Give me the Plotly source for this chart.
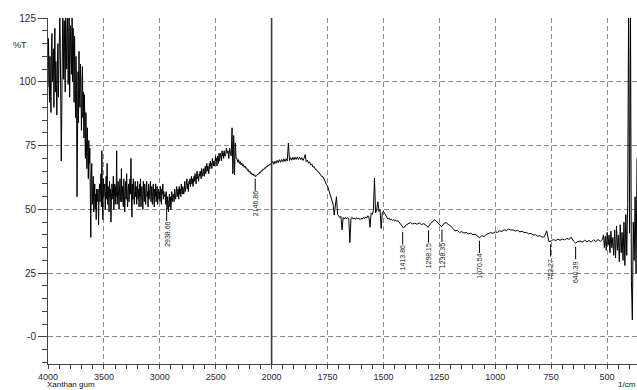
import numpy as np
import plotly.graph_objects as go

# ---------------- data ----------------
# transmittance (%T), segment by segment
t_4000_3560 = [98, 117, 104, 92, 110, 96, 88, 112, 119, 100, 107, 113, 90, 102, 121, 96,
               108, 99, 87, 106, 115, 94, 111,
               104, 126, 113, 98, 69, 88, 112, 128, 118, 101, 124, 109, 96, 130, 117,
               105, 119, 127, 99, 112, 128, 94, 108, 122, 115, 103, 127, 100, 121, 110,
               92, 118, 103, 86, 110, 97, 55, 88, 104, 84, 112, 95, 90, 107, 100, 81,
               99, 106, 86, 96,
               78, 95, 84, 70, 88, 76, 66, 82, 72, 62, 77, 68, 74, 58, 39, 63,
               68, 52, 61, 63, 49, 57, 60, 50, 56, 46, 58, 53]
t_3552_2960 = [58, 44, 55, 60, 53, 57, 64, 51, 73, 56,
               46, 62, 55, 59, 60, 50, 57, 63, 54, 68,
               52, 59, 56, 49, 61, 55, 58, 45, 53, 60,
               58, 54, 63, 50, 57, 60, 52, 59, 55, 73,
               52, 57, 61, 54, 50, 58, 62, 55, 53, 66,
               53, 59, 55, 51, 62, 57, 49, 58, 61, 54,
               64, 55, 51, 58, 60, 53, 57, 62, 56, 70,
               56, 47, 60, 54, 62, 58, 52, 57, 61, 55,
               59, 52, 56, 61, 54, 58, 51, 60, 55, 62,
               51, 57, 59, 54, 50, 61, 56, 53, 60, 55,
               52, 58, 61, 55, 57, 51, 60, 54, 58, 56,
               61, 53, 57, 59, 52, 56, 60, 54, 51, 58,
               55, 60, 53, 57, 59, 52, 56, 58, 54, 57,
               53, 59, 55, 52, 58, 56, 60, 54, 57, 55]
t_2952_2880 = [56, 52, 57, 54, 50, 55, 53, 49, 54, 56, 51, 55, 50, 54, 57, 53, 55, 56]
t_2872_2420 = [53, 58, 56, 54, 57, 59, 55, 56, 58, 54,
               59, 56, 58, 55, 60, 57, 56, 59, 58, 56,
               58, 61, 57, 60, 59, 62, 58, 60, 57, 61,
               60, 62, 59, 61, 63, 60, 62, 59, 61, 63,
               61, 64, 62, 60, 63, 65, 62, 63, 61, 64,
               63, 65, 64, 62, 66, 64, 63, 65, 66, 63,
               65, 67, 64, 66, 68, 65, 67, 66, 64, 68,
               66, 69, 67, 68, 66, 70, 68, 67, 69, 67,
               68, 71, 69, 70, 67, 71, 70, 68, 72, 69,
               70, 72, 71, 69, 73, 71, 72, 70, 73, 71]
t_2412_2005 = [71, 74, 72, 73, 70, 74, 72, 71,
               82, 64, 79, 63.5, 76, 70,
               70, 68.5, 69.5, 68, 68.8, 67.5, 68.2, 67, 67.6, 66.5, 67, 66, 66.3,
               65.2, 65.6, 64.6, 65, 64, 64.3, 63.5, 64, 63.2, 63.6, 62.8, 63.2,
               63.5, 64, 63.8, 64.6, 64.4, 65.2, 65, 65.8, 65.6, 66.3, 66.1, 66.8,
               66.6, 67.3, 67.1, 67.7, 67.5, 68]
t_2000_1705 = [68, 68.9, 67.7, 68.9, 68.1, 69.3, 68.3, 69.5, 68.5, 69.6, 68.7, 69.8,
               68.8, 69.9, 69, 76, 69.2, 70.3, 69.3, 70.4, 69.5, 70.5, 69.6, 70.6,
               69.6, 70.5, 69.5, 70.3, 69.2, 70, 71.5, 68.7, 69.3, 68.1, 68.7, 67.4,
               67.8, 66.6, 66.8, 65.7, 65.7, 64.8, 64.7, 63.9, 63.7, 62.8, 62.8, 61.6,
               61.2, 59.8, 59.2, 57.6, 56.4, 54.8, 53.7, 52, 47.8, 50.8, 55, 48]
t_1700_1420 = [47.5, 46.8, 47.3, 42, 46.8, 46.2, 46.9, 46.3, 46.8, 46.4, 37, 46.5,
               46.9, 46.2, 46.7, 46.1, 46.8, 46.3, 46.6, 46, 46.5, 46.2, 46.8, 46.4,
               47.1, 46.6, 47.5, 47.2, 43, 48.5, 48, 49.5, 62.3, 48.6, 50, 53,
               49.2, 49.8, 42.5, 48.8, 49.2, 48.2, 47.8, 47, 46.2, 46.6, 45.8, 46.2,
               45.7, 46, 45.4, 45.8, 45.3, 45.6, 45.1, 44.5, 44]
t_1410_520 = [42.7, 43.8, 44.5, 44.9, 44.3, 44.6, 44.2, 44.7, 44.1, 44.4, 43.8,
              43, 44.4, 45.3, 46, 45.1, 44.3, 43.2, 44.4, 44.9, 44.1, 43.6, 42.6,
              41.6, 41.8, 41, 41.3, 40.7, 41, 40.4, 40.7, 40.1, 40.3, 39.6, 38.9,
              39.7, 39.4, 40.2, 40.5, 40.9, 40.6, 41.2, 41, 41.6, 41.4, 42, 41.7,
              42.3, 41.9, 42, 41.5, 41.8, 41.2, 41.4, 40.9, 41, 40.4, 40.6, 40,
              40.1, 39.5, 39.7, 39.1, 39.3, 41.6, 37.4, 37.6, 38.2, 37.8, 38.3,
              37.9, 38.4, 38.1, 38.6, 38.3, 39.1, 37.6, 36.8, 37.4, 37.6, 37.2,
              37.9, 37.3, 37.8, 37.2, 38.1, 37.4, 38.2, 37.5, 38.3]
t_516_366 = [40, 35, 39.5, 34, 41, 36, 40, 33, 41.5, 35, 39, 32,
             42, 31, 43.5, 34, 40, 29.5, 44, 33, 41, 30,
             45, 28, 48, 32, 52,
             130, 40.7, 130, 22, 6.7, 45, 30, 55, 25, 70]

segments = [
    (4000, 3560, t_4000_3560),
    (3552, 2960, t_3552_2960),
    (2952, 2880, t_2952_2880),
    (2872, 2420, t_2872_2420),
    (2412, 2005, t_2412_2005),
    (2000, 1705, t_2000_1705),
    (1700, 1420, t_1700_1420),
    (1410, 520, t_1410_520),
    (516, 366, t_516_366),
]

# picked peaks: wavenumber label and %T at the peak
peak_labels = ["2938.66", "2146.86", "1413.86", "1298.15", "1238.35",
               "1070.54", "752.27", "640.39"]
peak_wn = [2938.66, 2146.86, 1413.86, 1298.15, 1238.35, 1070.54, 752.27, 640.39]
peak_t = [51.5, 63.3, 42.3, 43.0, 43.2, 38.9, 37.5, 36.5]

x_major_labels = ["4000", "3500", "3000", "2500", "2000", "1750", "1500",
                  "1250", "1000", "750", "500"]
x_major_wn = [4000, 3500, 3000, 2500, 2000, 1750, 1500, 1250, 1000, 750, 500]
y_major_vals = [0, 25, 50, 75, 100, 125]
y_major_labels = ["-0", "25", "50", "75", "100", "125"]


# FTIR display: scale doubled below 2000 1/cm
def to_u(wn):
    wn = np.asarray(wn, dtype=float)
    return np.where(wn > 2000, 2000 + (wn - 2000) / 2.0, wn)


wn_all = np.concatenate([np.linspace(a, b, len(v)) for a, b, v in segments])
t_all = np.concatenate([np.asarray(v, dtype=float) for a, b, v in segments])

fig = go.Figure()
fig.add_trace(go.Scatter(x=to_u(wn_all), y=t_all, mode="lines",
                         line=dict(color="#000000", width=1),
                         hoverinfo="skip", showlegend=False))

Y_MIN, Y_MAX = -10.6, 125.05

# solid marker line at 2000 1/cm (scale change)
fig.add_shape(type="line", xref="x", yref="y", x0=2000, x1=2000, y0=Y_MIN, y1=Y_MAX,
              line=dict(color="#3c3c3c", width=1.6), layer="above")

# peak markers
for lab, w, t in zip(peak_labels, peak_wn, peak_t):
    u = float(to_u(w))
    fig.add_shape(type="line", xref="x", yref="y", x0=u, x1=u, y0=t - 1.2, y1=t - 6,
                  line=dict(color="#000000", width=1))
    fig.add_annotation(x=u, y=t - 11.2, xref="x", yref="y", text=lab, textangle=-90,
                       showarrow=False, xanchor="center", yanchor="middle",
                       font=dict(family="Liberation Sans, Arial", size=7, color="#1a1a1a"))

axis_font = dict(family="Liberation Sans, Arial", size=10, color="#2a2a35")
xaxis_font = dict(family="Liberation Sans, Arial", size=9, color="#2a2a35")

fig.update_xaxes(range=[3000, 366], showline=True, linecolor="#444", linewidth=1,
                 tickmode="array", tickvals=[float(to_u(w)) for w in x_major_wn],
                 ticktext=x_major_labels, ticks="outside", ticklen=4, tickcolor="#444",
                 tickfont=xaxis_font, showgrid=True, gridcolor="#8a8a8a", gridwidth=1,
                 griddash="5px,3px", zeroline=False, ticklabelstandoff=0,
                 minor=dict(tickmode="linear", tick0=0, dtick=50, ticks="outside",
                            ticklen=4, tickcolor="#444", showgrid=False))
fig.update_yaxes(range=[Y_MIN, Y_MAX], showline=True, linecolor="#444", linewidth=1,
                 tickmode="array", tickvals=y_major_vals, ticktext=y_major_labels,
                 ticks="outside", ticklen=9, tickcolor="#444", tickfont=axis_font,
                 showgrid=True, gridcolor="#8a8a8a", gridwidth=1, griddash="5px,3px",
                 zeroline=False,
                 minor=dict(tickmode="linear", tick0=0, dtick=5, ticks="outside",
                            ticklen=5, tickcolor="#444", showgrid=False))

fig.add_annotation(xref="paper", yref="paper", x=-0.047, y=0.922, text="%T",
                   showarrow=False, xanchor="center", yanchor="middle",
                   font=dict(family="Liberation Sans, Arial", size=9, color="#2a2a35"))
fig.add_annotation(xref="paper", yref="paper", x=-0.004, y=-0.0751, text="Xanthan gum",
                   showarrow=False, xanchor="left", yanchor="bottom", borderpad=0,
                   font=dict(family="Liberation Sans, Arial", size=8, color="#111"))
fig.add_annotation(xref="paper", yref="paper", x=1.0, y=-0.0751, text="1/cm",
                   showarrow=False, xanchor="right", yanchor="bottom", borderpad=0,
                   font=dict(family="Liberation Sans, Arial", size=8, color="#111"))

fig.update_layout(width=637, height=390, margin=dict(l=48, r=0, t=18, b=26),
                  plot_bgcolor="white", paper_bgcolor="white", showlegend=False)

fig.write_html("out.html")
